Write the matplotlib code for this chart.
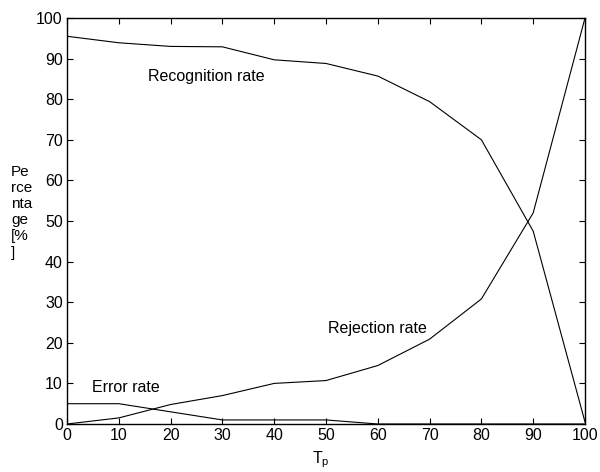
import matplotlib
matplotlib.use("Agg")
import matplotlib.pyplot as plt

plt.rcParams['font.family'] = ['Liberation Sans', 'DejaVu Sans']

tp = [0, 10, 20, 30, 40, 50, 60, 70, 80, 90, 100]
recognition = [95.5, 93.9, 93.0, 92.9, 89.7, 88.8, 85.7, 79.4, 70.0, 47.5, 0.5]
rejection = [0.0, 1.5, 4.8, 7.0, 10.0, 10.7, 14.4, 20.9, 30.8, 52.0, 100.0]
error = [5.0, 5.0, 3.0, 1.0, 1.0, 1.0, 0.0, 0.0, 0.0, 0.0, 0.0]

fig = plt.figure(figsize=(6.0, 4.72), dpi=100)
ax = fig.add_axes([67/600, 1-424/472, (585-67)/600, (424-18)/472])

for s in (recognition, rejection, error):
    ax.plot(tp, s, color='black', linewidth=0.8)

ax.set_xlim(0, 100)
ax.set_ylim(0, 100)
ax.set_xticks(range(0, 101, 10))
ax.set_yticks(range(0, 101, 10))
ax.tick_params(direction='in', top=True, right=True, labelsize=11.5, length=4, pad=3)
for sp in ax.spines.values():
    sp.set_linewidth(1.0)

ax.text(15.7, 85.5, 'Recognition rate', fontsize=11.5, va='center', ha='left')
ax.text(50.3, 23.6, 'Rejection rate', fontsize=11.5, va='center', ha='left')
ax.text(4.8, 8.9, 'Error rate', fontsize=11.5, va='center', ha='left')

fig.text(11/600, 1-212/472, 'Pe\nrce\nnta\nge\n[%\n]', fontsize=11, va='center', ha='left', linespacing=1.2)
fig.text(321/600, 1-460/472, r'T$_\mathregular{p}$', fontsize=11.5, va='center', ha='center')

fig.savefig('out.png', dpi=100)
